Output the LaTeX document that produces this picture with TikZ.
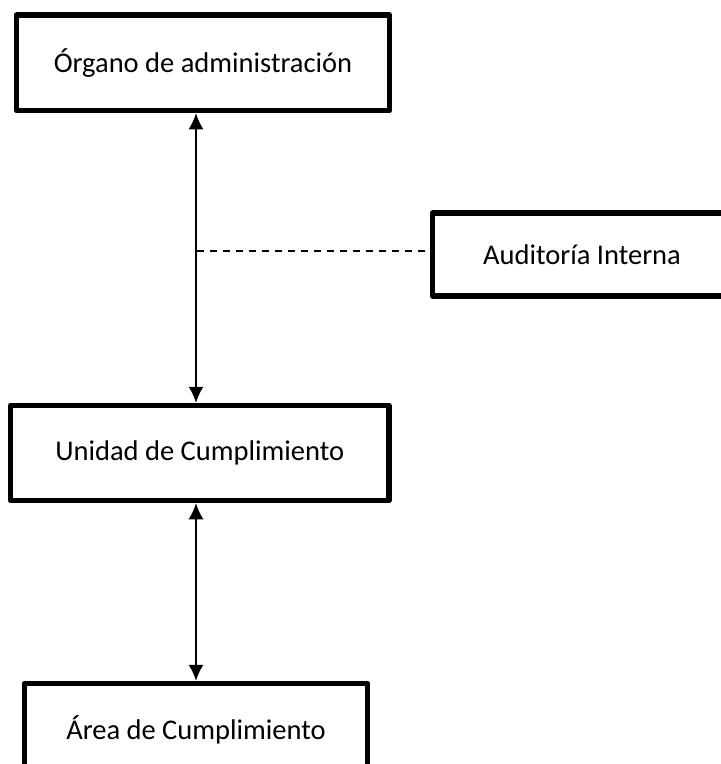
\documentclass[tikz,border=0pt]{standalone}
\usepackage{fontspec}
\setmainfont{Carlito}
\usetikzlibrary{arrows.meta}
\tikzset{
  box/.style={draw=black, line width=5.5pt, line join=round, fill=white, rectangle, inner sep=0pt,
    font=\fontsize{28.5}{34}\selectfont, text=black},
  link/.style={draw=black, line width=1.5pt, {Latex[length=16pt,width=15pt]}-{Latex[length=16pt,width=15pt]}},
  dashlink/.style={draw=black, line width=1.5pt, dash pattern=on 7pt off 6pt}
}
\begin{document}
\begin{tikzpicture}[x=1pt,y=-1pt]
\useasboundingbox (0,0) rectangle (721,764);
\clip (0,0) rectangle (721,764);
\node[box, minimum width=373pt, minimum height=95.5pt] (org) at (203,62.75) {Órgano de administración};
\node[box, minimum width=299pt, minimum height=83pt] (aud) at (582,254.5) {Auditoría Interna};
\node[box, minimum width=378.5pt, minimum height=95pt] (uni) at (199.75,453) {Unidad de Cumplimiento};
\node[box, minimum width=343pt, minimum height=93pt] (area) at (196,730) {Área de Cumplimiento};
\coordinate (ax) at (196,0);
\coordinate (dy) at (197,251);
\draw[link] (ax |- org.south) -- (ax |- uni.north);
\draw[dashlink] (dy) -- (aud.west |- dy);
\draw[link] (ax |- uni.south) -- (ax |- area.north);
\end{tikzpicture}
\end{document}
